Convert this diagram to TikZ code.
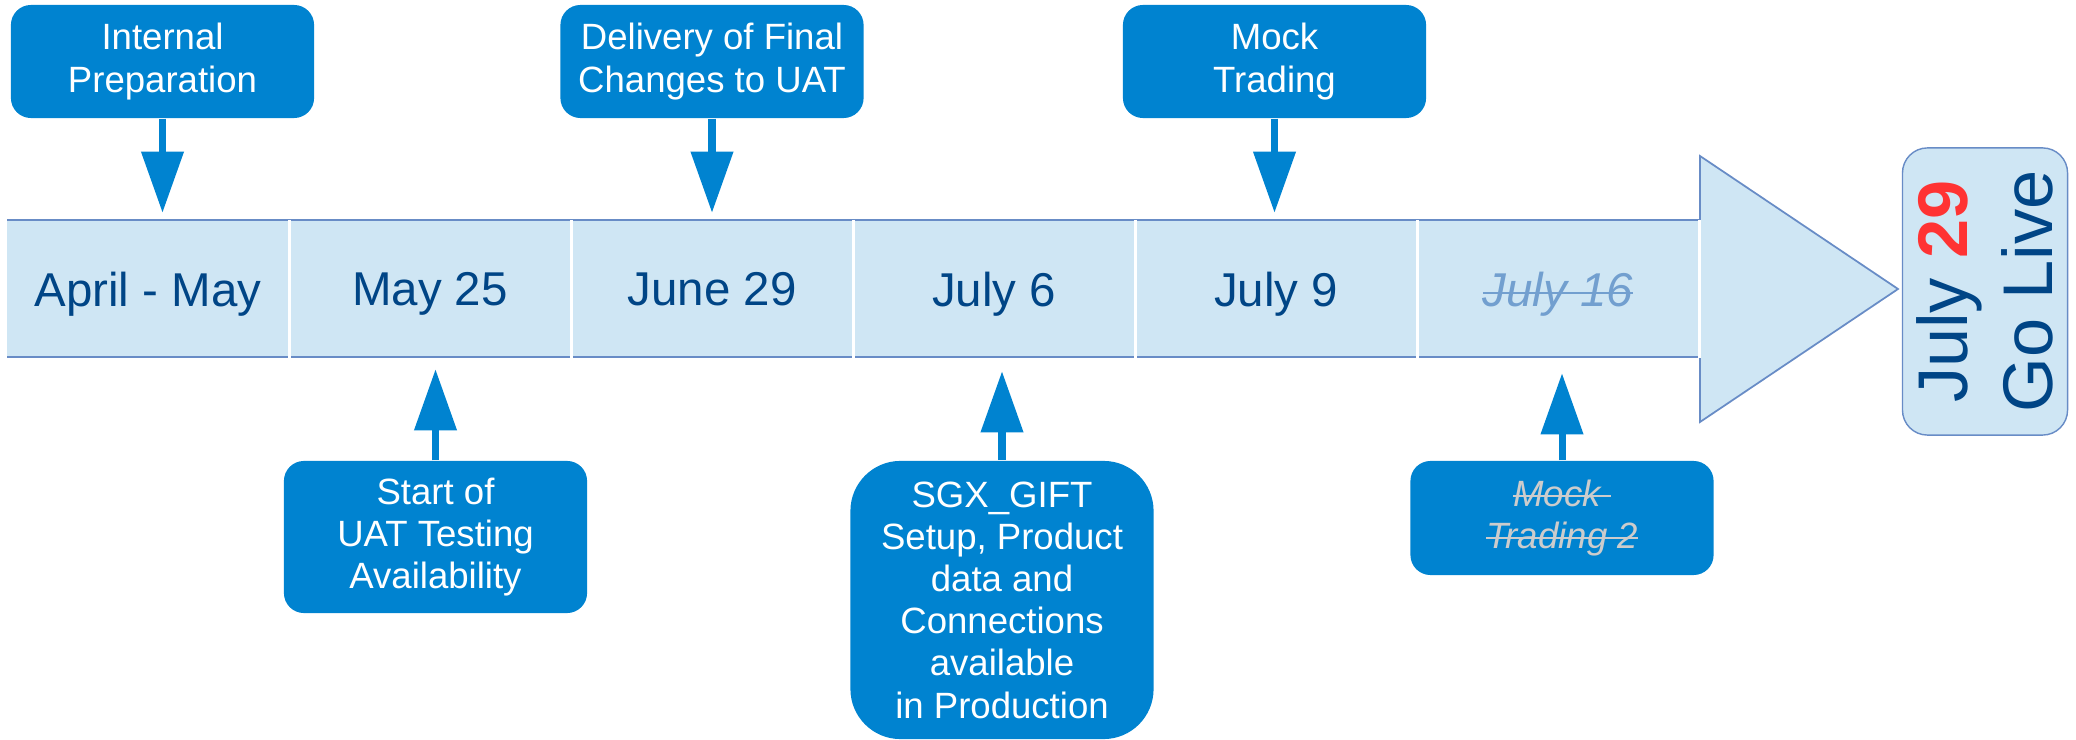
\documentclass[tikz,border=0pt]{standalone}
\usepackage{fontspec}
\setmainfont{Liberation Sans}
\usepackage{xcolor}
\usetikzlibrary{
    arrows.meta,
    calc,
    positioning
}
\definecolor{callBlue}{RGB}{0,131,208}
\definecolor{bandBlue}{RGB}{207,230,244}
\definecolor{lineBlue}{RGB}{104,140,198}
\definecolor{textBlue}{RGB}{0,69,134}
\definecolor{strikeBlue}{RGB}{114,159,207}
\definecolor{strikeGrey}{RGB}{204,204,204}
\definecolor{liveRed}{RGB}{255,51,51}
\newcommand{\crossout}[1]{\setbox0\hbox{#1}\rlap{\raisebox{0.26em}{\rule{\wd0}{0.6pt}}}\box0}
\tikzset{
    callout/.style={rectangle, rounded corners=2mm, fill=callBlue, text=white, align=center,
        font=\fontsize{10.4}{12}\selectfont, minimum width=3.03cm, inner sep=0pt},
    datebox/.style={rectangle, minimum width=2.82cm, minimum height=1.37cm, inner sep=0pt,
        text=textBlue, text depth=0pt, font=\fontsize{13.5}{16}\selectfont},
    pointer/.style={draw=callBlue, line width=2pt, -{Triangle[length=17.4pt, width=11.7pt]}},
    sep/.style={draw=white, line width=0.8pt},
    golive/.style={rectangle, rotate=90, rounded corners=2.5mm, fill=bandBlue, draw=lineBlue,
        text=textBlue, align=center, minimum width=2.87cm, minimum height=1.65cm, inner sep=0pt,
        font=\fontsize{20}{24}\selectfont}
}

\begin{document}
\begin{tikzpicture}[x=0.01cm, y=-0.01cm]
    \useasboundingbox (0, 0) rectangle (2076, 740);
    \filldraw[fill=bandBlue, draw=lineBlue, line width=0.5pt]
        (7, 220) -- (1700, 220) -- (1700, 156) -- (1898, 289) -- (1700, 422) -- (1700, 357) -- (7, 357);

    \node[datebox] (s1) at (148, 289) {April - May};
    \node[datebox] (s2) at (430, 289) {May 25};
    \node[datebox] (s3) at (712, 289) {June 29};
    \node[datebox] (s4) at (994, 289) {July 6};
    \node[datebox] (s5) at (1276, 289) {July 9};
    \node[datebox, text=strikeBlue, font=\fontsize{13.5}{16}\selectfont\itshape] (s6) at (1558, 289) {\crossout{July 16}};
    \draw[sep]
        (s1.north east) -- (s1.south east)
        (s2.north east) -- (s2.south east)
        (s3.north east) -- (s3.south east)
        (s4.north east) -- (s4.south east)
        (s5.north east) -- (s5.south east)
        (s6.north east) -- (s6.south east);

    \node[golive] (live) at (1985, 291.5) {July \textcolor{liveRed}{\bfseries 29}\\Go Live};

    \node[callout, minimum height=1.13cm] (prep) at (162.5, 61.5) {Internal\\Preparation};
    \node[callout, minimum height=1.13cm] (deliv) at (712, 61.5) {Delivery of Final\\Changes to UAT};
    \node[callout, minimum height=1.13cm] (mock) at (1274.5, 61.5) {Mock\\Trading};

    \node[callout, minimum height=1.52cm] (uat) at (435.5, 537) {Start of\\UAT Testing\\Availability};
    \node[callout, minimum height=2.78cm, rounded corners=5mm] (gift) at (1002, 600) {SGX\_GIFT\\Setup, Product\\data and\\Connections\\available\\in Production};
    \node[callout, minimum height=1.14cm, text=strikeGrey, font=\fontsize{10.4}{12}\selectfont\itshape] (mock2) at (1562, 518) {\crossout{Mock }\\\crossout{Trading 2}};

    \draw[pointer, shorten >=0.7mm] (prep.south) -- (prep.south |- s1.north);
    \draw[pointer, shorten >=0.7mm] (deliv.south) -- (deliv.south |- s3.north);
    \draw[pointer, shorten >=0.7mm] (mock.south) -- (mock.south |- s5.north);
    \draw[pointer, shorten >=1.1mm] (uat.north) -- (uat.north |- s2.south);
    \draw[pointer, shorten >=1.3mm] (gift.north) -- (gift.north |- s4.south);
    \draw[pointer, shorten >=1.5mm] (mock2.north) -- (mock2.north |- s6.south);
\end{tikzpicture}
\end{document}
